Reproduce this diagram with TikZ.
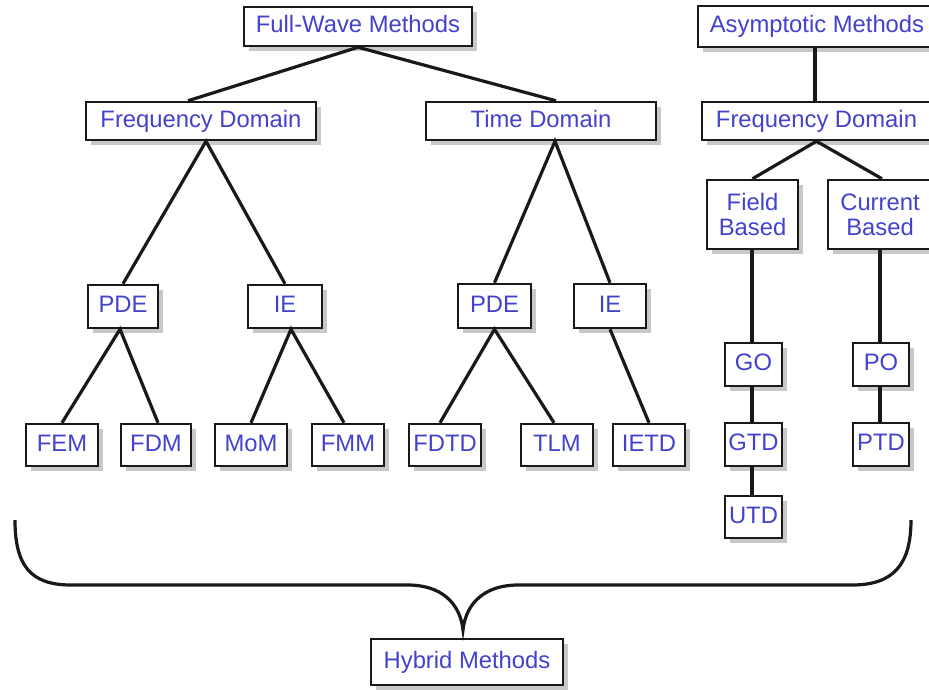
\documentclass[tikz,border=0pt]{standalone}
\usepackage{fontspec}
\setmainfont{Liberation Sans}
\usetikzlibrary{shadows,calc}
\definecolor{txtblue}{RGB}{66,66,204}
\definecolor{shadowgray}{RGB}{200,200,200}
\begin{document}
\begin{tikzpicture}[x=1pt,y=-1pt,
  mbox/.style={draw=black!90, line width=2.5pt, fill=white, inner sep=0pt,
    text=txtblue, font=\fontsize{23.8}{25}\selectfont, align=center,
    drop shadow={shadow xshift=5pt, shadow yshift=-5pt, fill=shadowgray, opacity=1}},
  sl/.style={text height=17pt, text depth=4.5pt},
  conn/.style={line width=3.2pt, draw=black!90},
  bw/.style={minimum width=#1},
  bh/.style={minimum height=#1}]
\useasboundingbox (0,0) rectangle (929,689);
\clip (0,0) rectangle (929,689);
\fill[white] (0,0) rectangle (929,689);
% top level
\node[mbox,sl,bw=228pt,bh=39pt] (fw) at (358,26.5) {Full-Wave Methods};
\node[mbox,sl,bw=238pt,bh=41pt] (am) at (817,26.5) {Asymptotic Methods};
% domains
\node[mbox,sl,bw=230pt,bh=38pt] (fdl) at (201,121) {Frequency Domain};
\node[mbox,sl,bw=230pt,bh=38pt] (td) at (541,121) {Time Domain};
\node[mbox,sl,bw=229pt,bh=38pt] (fdr) at (816.5,121) {Frequency Domain};
\node[mbox,bw=91pt,bh=69pt] (fb) at (752.5,214.5) {Field\\Based};
\node[mbox,bw=104pt,bh=69pt] (cb) at (880,214.5) {Current\\Based};
% PDE / IE
\node[mbox,sl,bw=70pt,bh=43pt] (pdel) at (123,306.5) {PDE};
\node[mbox,sl,bw=74pt,bh=43pt] (iel) at (285,306.5) {IE};
\node[mbox,sl,bw=73pt,bh=44pt] (pdem) at (494.5,306) {PDE};
\node[mbox,sl,bw=72pt,bh=44pt] (iem) at (610,306) {IE};
% leaves
\node[mbox,sl,bw=72pt,bh=42pt] (fem) at (62,445) {FEM};
\node[mbox,sl,bw=70pt,bh=42pt] (fdm) at (156,445) {FDM};
\node[mbox,sl,bw=72pt,bh=42pt] (mom) at (251,445) {MoM};
\node[mbox,sl,bw=72pt,bh=42pt] (fmm) at (348,445) {FMM};
\node[mbox,sl,bw=72pt,bh=42pt] (fdtd) at (445,445) {FDTD};
\node[mbox,sl,bw=72pt,bh=42pt] (tlm) at (557,445) {TLM};
\node[mbox,sl,bw=72pt,bh=42pt] (ietd) at (649,445) {IETD};
% asymptotic leaves
\node[mbox,sl,bw=57pt,bh=43pt] (go) at (753.5,364.5) {GO};
\node[mbox,sl,bw=57pt,bh=43pt] (gtd) at (753.5,444.5) {GTD};
\node[mbox,sl,bw=57pt,bh=42pt] (utd) at (753.5,517) {UTD};
\node[mbox,sl,bw=56pt,bh=43pt] (po) at (881,364.5) {PO};
\node[mbox,sl,bw=56pt,bh=43pt] (ptd) at (881,444.5) {PTD};
% hybrid
\node[mbox,sl,bw=192pt,bh=46pt] (hm) at (467,662) {Hybrid Methods};
% connectors
\draw[conn] ($(fdl.north)+(-13,0)$) -- (fw.south) -- ($(td.north)+(15,0)$);
\draw[conn] (pdel.north) -- ($(fdl.south)+(5,0)$) -- (iel.north);
\draw[conn] (pdem.north) -- ($(td.south)+(14,0)$) -- (iem.north);
\draw[conn] (fem.north) -- ($(pdel.south)+(-3,0)$) -- ($(fdm.north)+(2,0)$);
\draw[conn] (mom.north) -- ($(iel.south)+(6,0)$) -- ($(fmm.north)+(-4,0)$);
\draw[conn] ($(fdtd.north)+(-5,0)$) -- (pdem.south) -- ($(tlm.north)+(-3,0)$);
\draw[conn] (iem.south) -- (ietd.north);
\draw[conn] ($(am.south)+(-2,0)$) -- ($(fdr.north)+(-1.5,0)$);
\draw[conn] (fb.north) -- (fdr.south) -- ($(cb.north)+(2,0)$);
\draw[conn] ($(fb.south)+(-0.5,0)$) -- ($(go.north)+(-1.5,0)$);
\draw[conn] ($(go.south)+(-1.5,0)$) -- ($(gtd.north)+(-1.5,0)$);
\draw[conn] ($(gtd.south)+(-1.5,0)$) -- ($(utd.north)+(-1.5,0)$);
\draw[conn] (cb.south) -- ($(po.north)+(-1,0)$);
\draw[conn] ($(po.south)+(-1,0)$) -- ($(ptd.north)+(-1,0)$);
% brace
\coordinate (btip) at (463,630);
\draw[conn] (15,520) .. controls (15,565) and (30,585) .. (71,585) -- (408,585)
  .. controls (440,585) and (460,602) .. (btip)
  .. controls (466,602) and (486,585) .. (518,585) -- (852,585)
  .. controls (893,585) and (911,565) .. (911,520);
\end{tikzpicture}
\end{document}
